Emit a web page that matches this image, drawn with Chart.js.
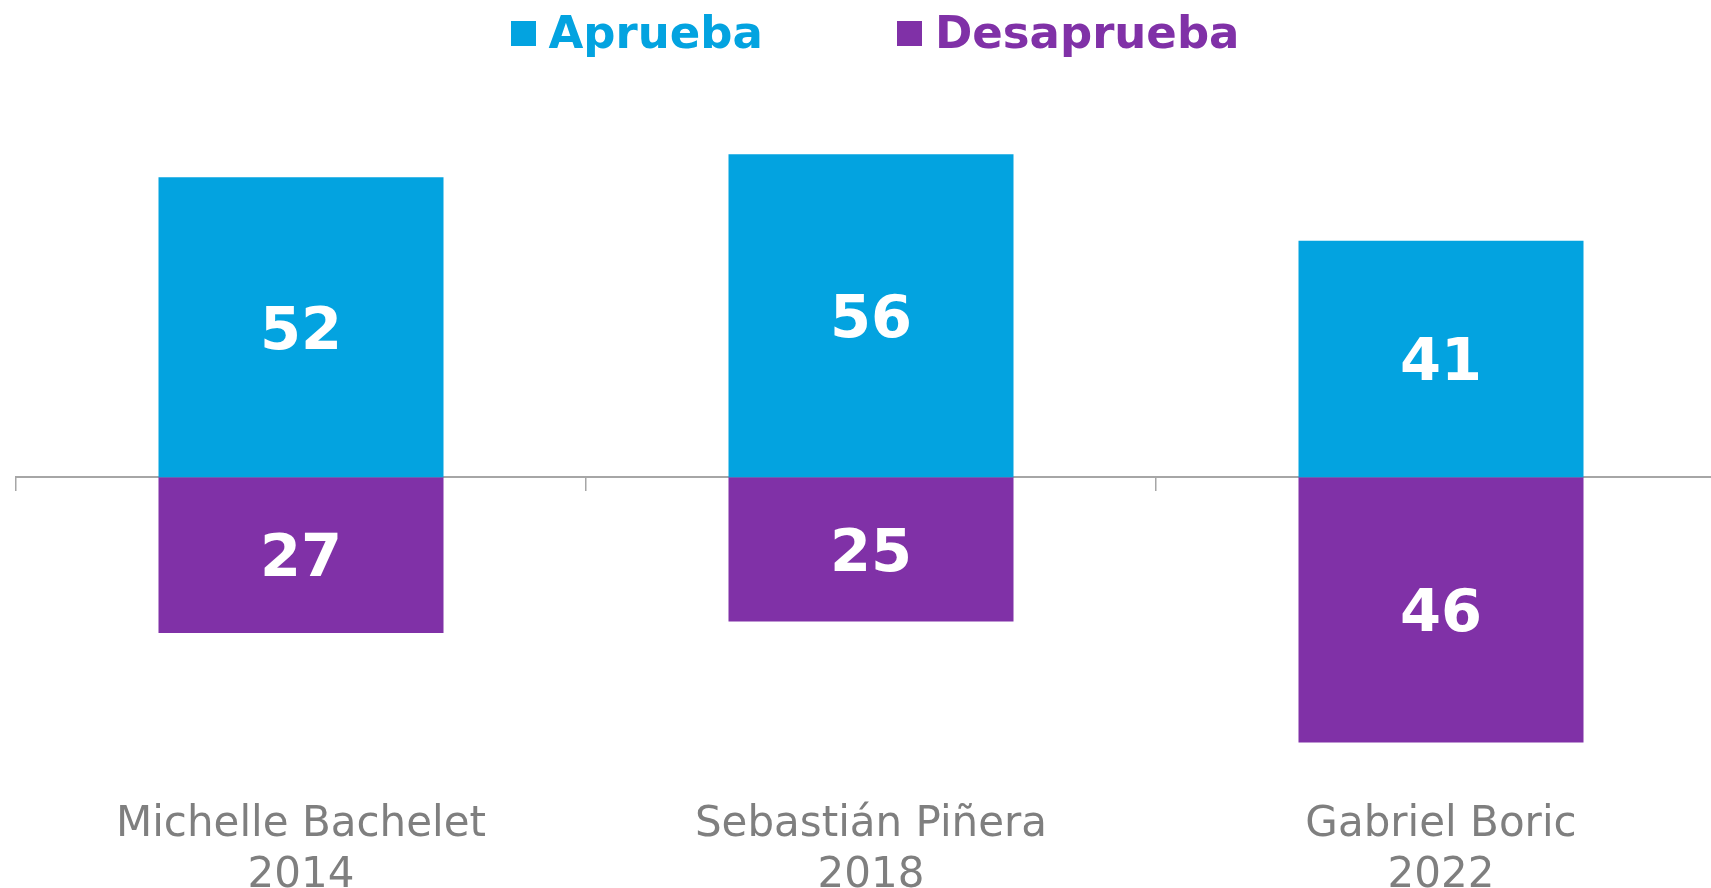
<!DOCTYPE html>
<html>
<head>
<meta charset="utf-8">
<script src="https://cdn.jsdelivr.net/npm/chart.js@4"></script>
<style>
    body { margin: 0; overflow: hidden; background: #fff; font-family: "DejaVu Sans", sans-serif; }
    #wrap { position: absolute; left: 0; top: 0; width: 1740px; height: 901px; }
    #legend { position: absolute; left: 0; top: 8px; width: 1750px; display: flex; justify-content: center; gap: 134px; }
    .item { display: flex; align-items: center; font-weight: bold; font-size: 45px; line-height: 50px; }
    .box { width: 25px; height: 25px; margin-right: 13px; }
</style>
</head>
<body>
<div id="wrap"><canvas id="chart"></canvas></div>
<div id="legend"></div>
<script>
// Chart data
const categories = [['Michelle Bachelet', '2014'], ['Sebastián Piñera', '2018'], ['Gabriel Boric', '2022']];
const aprueba = [52, 56, 41];
const desaprueba = [27, 25, 46];
const seriesNames = ['Aprueba', 'Desaprueba'];
const seriesColors = ['#03A3E0', '#8031A7'];

document.addEventListener('DOMContentLoaded', function() {
    // Legend
    const legend = document.getElementById('legend');
    seriesNames.forEach((name, i) => {
        const item = document.createElement('div');
        item.className = 'item';
        item.style.color = seriesColors[i];
        const box = document.createElement('span');
        box.className = 'box';
        box.style.background = seriesColors[i];
        item.appendChild(box);
        item.appendChild(document.createTextNode(name));
        legend.appendChild(item);
    });

    // White value labels in the middle of each bar
    const valueLabels = {
        id: 'valueLabels',
        afterDatasetsDraw(chart) {
            const ctx = chart.ctx;
            ctx.save();
            ctx.fillStyle = '#fff';
            ctx.font = 'bold 59px "DejaVu Sans"';
            ctx.textAlign = 'center';
            ctx.textBaseline = 'middle';
            chart.data.datasets.forEach((ds, i) => {
                chart.getDatasetMeta(i).data.forEach((bar, j) => {
                    const c = bar.getCenterPoint();
                    ctx.fillText(String(Math.abs(ds.data[j])), c.x, c.y + 6);
                });
            });
            ctx.restore();
        }
    };

    new Chart(document.getElementById('chart'), {
        type: 'bar',
        data: {
            labels: categories,
            datasets: [{
                label: seriesNames[0],
                data: aprueba,
                backgroundColor: seriesColors[0]
            }, {
                label: seriesNames[1],
                data: desaprueba.map(v => -v),
                backgroundColor: seriesColors[1]
            }]
        },
        options: {
            responsive: true,
            maintainAspectRatio: false,
            animation: false,
            layout: { padding: { left: 16, right: 14, top: 85, bottom: 0 } },
            datasets: { bar: { categoryPercentage: 1, barPercentage: 0.5 } },
            scales: {
                // zero line with tick marks between the categories
                x: {
                    stacked: true,
                    offset: true,
                    position: { y: 0 },
                    border: { display: true, color: '#A6A6A6', width: 2 },
                    grid: { display: true, offset: true, drawOnChartArea: false, drawTicks: true, tickLength: 13, color: '#A6A6A6', lineWidth: 1.5 },
                    ticks: { display: false }
                },
                // category names at the bottom
                x2: {
                    type: 'category',
                    position: 'bottom',
                    offset: true,
                    border: { display: false },
                    grid: { display: false, drawTicks: false },
                    ticks: {
                        color: '#7F7F7F',
                        padding: 0,
                        maxRotation: 0,
                        autoSkip: false,
                        font: { family: 'DejaVu Sans', size: 42, lineHeight: 1.2 }
                    }
                },
                y: {
                    stacked: true,
                    display: false,
                    min: -56,
                    max: 68
                }
            },
            plugins: {
                legend: { display: false },
                tooltip: { enabled: false }
            }
        },
        plugins: [valueLabels]
    });
});
</script>
</body>
</html>
